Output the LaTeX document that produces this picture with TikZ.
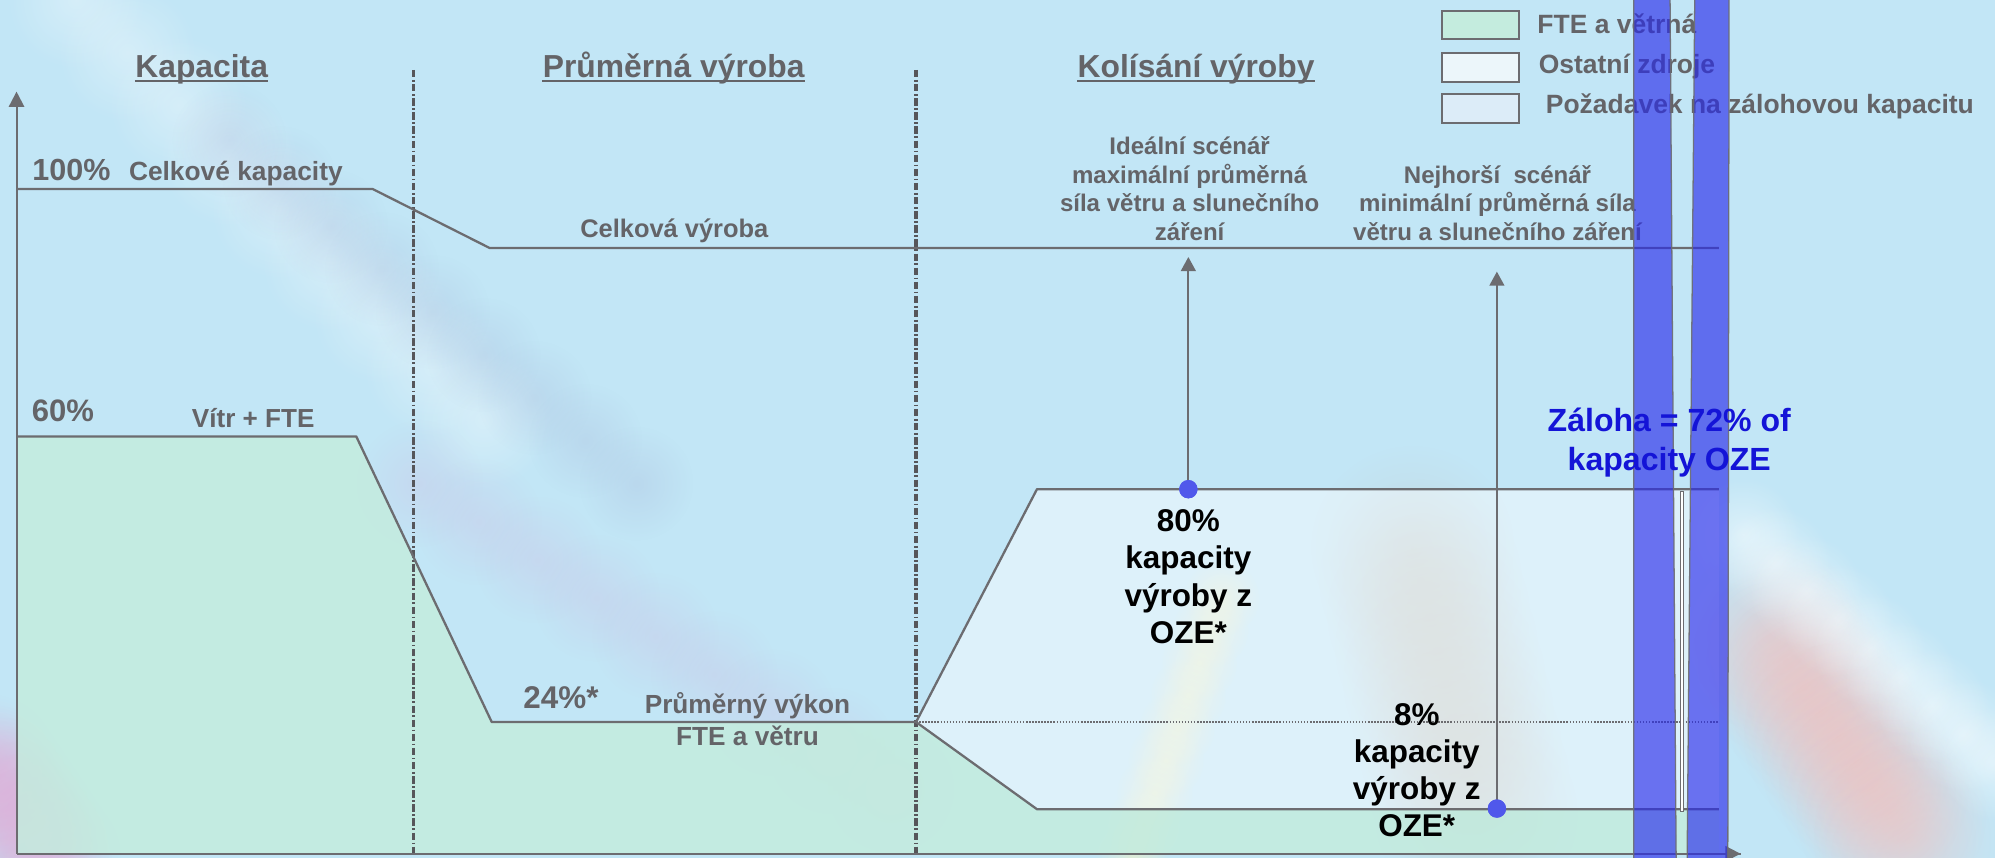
\documentclass[tikz,border=0pt]{standalone}
\usepackage{fontspec}
\setmainfont{Liberation Sans}
\usetikzlibrary{arrows.meta,fadings}

\definecolor{bg}{RGB}{194,230,246}
\definecolor{txt}{RGB}{100,100,104}
\definecolor{ln}{RGB}{108,108,112}
\definecolor{grn}{RGB}{196,236,222}
\definecolor{barblue}{RGB}{40,42,235}
\definecolor{dotblue}{RGB}{80,88,235}
\definecolor{zblue}{RGB}{20,20,215}
\definecolor{lavender}{RGB}{205,185,225}
\definecolor{bluegray}{RGB}{165,180,215}
\definecolor{pinkish}{RGB}{222,180,220}
\definecolor{sunny}{RGB}{252,242,185}
\definecolor{greyblob}{RGB}{196,198,192}
\definecolor{redblob}{RGB}{246,190,186}
\definecolor{legB}{RGB}{236,246,250}
\definecolor{legC}{RGB}{220,236,248}

\tikzfading[name=blobfade, inner color=transparent!0, outer color=transparent!100]
\newcommand\fsz[2]{\fontsize{#1pt}{#2pt}\selectfont\bfseries}

\tikzset{
  lbl/.style={inner sep=0pt, text=txt, anchor=base},
  gl/.style={draw=ln, line width=0.9pt, line join=round},
  dashdotline/.style={draw=ln!80!black, line width=1.3pt, dash pattern=on 2.9pt off 1pt on 0.65pt off 1pt},
  dotl/.style={draw=ln, line width=0.5pt, dash pattern=on 0.6pt off 0.6pt},
  axisline/.style={draw=ln, line width=0.8pt},
  arr/.style={draw=ln, line width=0.75pt, -{Triangle[width=5.8pt,length=5.5pt]}},
  blobdot/.style={circle, fill=dotblue, inner sep=0pt, minimum size=7.2pt},
  legbox/.style={draw=ln, line width=0.8pt, minimum width=30.5pt, minimum height=11.2pt, inner sep=0pt},
  ul/.style={draw=txt, line width=0.8pt},
  barfill/.style={fill=barblue, fill opacity=0.64, draw=ln, draw opacity=0.9, line width=0.5pt},
}

\begin{document}
\begin{tikzpicture}[x=0.5pt,y=-0.5pt]
\useasboundingbox (0,0) rectangle (1568,674);
\fill[bg] (0,0) rectangle (1568,674);

% soft background blobs
\foreach \xa/\ya/\xb/\yb/\r/\c/\o in {
  60/0/380/330/55/white/0.32,
  180/110/500/380/45/bluegray/0.28,
  330/380/700/620/50/lavender/0.30,
  -10/600/40/674/55/pinkish/0.45,
  890/674/960/470/30/sunny/0.45,
  1110/430/1160/640/80/greyblob/0.35,
  1390/500/1500/660/75/redblob/0.35,
  1370/420/1568/600/45/white/0.45} {
  \foreach \t in {0,0.125,0.25,0.375,0.5,0.625,0.75,0.875,1} {
    \fill[\c, fill opacity=\o, path fading=blobfade]
      ({\xa+\t*(\xb-\xa)},{\ya+\t*(\yb-\ya)}) circle ({\r*0.5pt});
  }
}

% regions
\fill[grn, fill opacity=0.85] (13,343) -- (280,343) -- (386.5,567.5) -- (720,567.5)
  -- (815,636) -- (1351,636) -- (1351,671) -- (13,671) -- cycle;
\fill[white, fill opacity=0.45] (720,567.5) -- (815,384.5) -- (1351,384.5)
  -- (1351,636) -- (815,636) -- cycle;

% dash-dot separators
\coordinate (s1t) at (325,55);  \coordinate (s1b) at (325,671);
\coordinate (s2t) at (720,55);  \coordinate (s2b) at (720,671);
\draw[dashdotline] (s1t) -- (s1b);
\draw[dashdotline] (s2t) -- (s2b);

% curves
\draw[gl] (13,148.6) -- (293,148.6) -- (385,195) -- (1351,195);
\draw[gl] (13,343) -- (280,343) -- (386.5,567.5) -- (720,567.5);
\coordinate (fork) at (720,567.5);
\draw[gl] (fork) -- (815,384.5) -- (1351,384.5);
\draw[gl] (fork) -- (815,636) -- (1351,636);
\draw[dotl] (fork) -- (1351,567.5);

% axes
\coordinate (origin) at (13,671);
\coordinate (ytip) at (13,72);
\coordinate (xtip) at (1368,671);
\draw[axisline] (origin) -- (xtip);
\draw[axisline, -{Triangle[width=6pt,length=6pt]}] (origin) -- (ytip);
\draw[axisline, -{Triangle[width=6pt,length=6pt]}] (1300,671) -- (xtip);

% headers
\node[lbl, font=\fsz{12.5}{15}] (hKap) at (158.5,61) {Kapacita};
\node[lbl, font=\fsz{12.5}{15}] (hPrum) at (529.5,61) {Průměrná výroba};
\node[lbl, anchor=base west, font=\fsz{12.5}{15}] (hKol) at (846.6,61) {Kolísání výroby\ };
\draw[ul] ([yshift=-1.3pt]hKap.base west) -- ([yshift=-1.3pt]hKap.base east);
\draw[ul] ([yshift=-1.3pt]hPrum.base west) -- ([yshift=-1.3pt]hPrum.base east);
\draw[ul] ([yshift=-1.3pt]hKol.base west) -- ([yshift=-1.3pt]hKol.base east);

% labels
\node[lbl, anchor=base west, font=\fsz{12}{14}] (t100) at (25,141.5) {100\%};
\node[lbl, anchor=base west, font=\fsz{10.35}{12}] (tCK) at (101,141.5) {Celkové kapacity};
\node[lbl, font=\fsz{10}{12}] (tCV) at (530,187) {Celková výroba};
\node[lbl, anchor=base west, font=\fsz{12.2}{14}] (t60) at (24.6,331.4) {60\%};
\node[lbl, font=\fsz{10.25}{12}] (tVF) at (199,336) {Vítr + FTE};
\node[lbl, anchor=base west, font=\fsz{12.35}{14}] (t24) at (411,556.6) {24\%*};
\node[lbl, align=center, font=\fsz{10.3}{12.65}] (tPV) at (587.5,586) {Průměrný výkon\\FTE a větru};

\node[lbl, align=center, font=\fsz{9.45}{11.2}] (tIdeal) at (935,189)
  {Ideální scénář\\maximální průměrná\\síla větru a slunečního\\záření};
\node[lbl, align=center, font=\fsz{9.45}{11.2}] (tWorst) at (1177,189)
  {Nejhorší\ \ scénář\\minimální průměrná síla\\větru a slunečního záření};

\node[lbl, align=center, text=black, font=\fsz{12.35}{14.6}] (t80) at (934,505.6)
  {80\%\\kapacity\\výroby z\\OZE*};
\node[lbl, align=center, text=black, font=\fsz{12.35}{14.6}] (t8) at (1113.5,657.6)
  {8\%\\kapacity\\výroby z\\OZE*};

% scenario arrows
\node[blobdot] (d80) at (934,384.5) {};
\coordinate (a80) at (934,202);
\draw[arr] (d80.center) -- (a80);
\node[blobdot] (d8) at (1176.5,635.5) {};
\coordinate (a8) at (1176.5,213.5);
\draw[arr] (d8.center) -- (a8);
\node[blobdot] at (934,384.5) {};
\node[blobdot] at (1176.5,635.5) {};

% legend
\node[legbox, fill=grn] (lb1) at (1163.5,19.8) {};
\node[legbox, fill=legB] (lb2) at (1163.5,53) {};
\node[legbox, fill=legC] (lb3) at (1163.5,85.3) {};
\node[lbl, anchor=base west, font=\fsz{10.4}{12}] (lt1) at (1208,26) {FTE a větrná};
\node[lbl, anchor=base west, font=\fsz{10.4}{12}] (lt2) at (1209,58) {Ostatní zdroje};
\node[lbl, anchor=base west, font=\fsz{10.4}{12}] (lt3) at (1214.6,89) {Požadavek na zálohovou kapacitu};

% thin double line between bars
\draw[draw=ln, fill=white, line width=0.35pt] (1320.5,386) rectangle (1323.3,638);

% blue bars
\path[barfill] (1284,-2) -- (1312.6,-2) -- (1317.4,676) -- (1284,676) -- cycle;
\path[barfill] (1332,-2) -- (1359,-2) -- (1358,676) -- (1326,676) -- cycle;

% reserve text
\node[lbl, align=center, text=zblue, font=\fsz{12.6}{15.5}] (tZal) at (1312,370)
  {Záloha = 72\% of\\kapacity OZE};
\end{tikzpicture}
\end{document}
